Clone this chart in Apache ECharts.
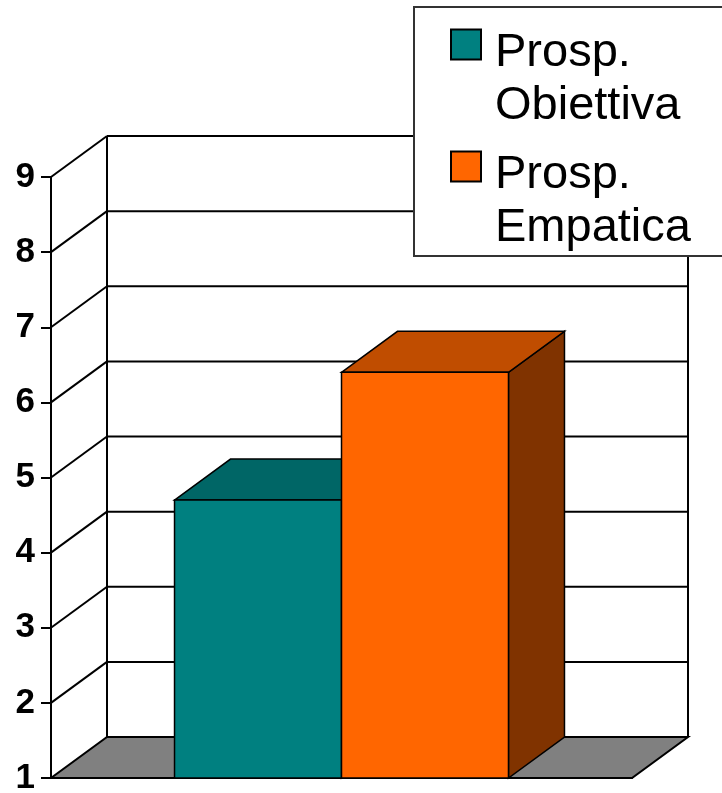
<!DOCTYPE html>
<html>
<head>
<meta charset="utf-8">
<script src="https://cdn.jsdelivr.net/npm/echarts@6/dist/echarts.min.js"></script>
<style>
  html, body { margin: 0; padding: 0; background: #fff; }
  #chart { width: 722px; height: 793px; }
</style>
</head>
<body>
<div id="chart"></div>
<script>
var categories = [''];
var seriesNames = ['Prosp. Obiettiva', 'Prosp. Empatica'];
var obiettivaValues = [4.7];
var empaticaValues = [6.4];
var yTicks = [1, 2, 3, 4, 5, 6, 7, 8, 9];

var FONT = '"Liberation Sans", Arial, sans-serif';
var DX = 56, DY = -41;     // depth offset of the 3D box
var BAR_SHARE = 0.2874;    // bar width as part of the category band

var myEchart = echarts.init(document.getElementById('chart'));

// back wall, left wall and floor
function renderWall(params, api) {
    var v = api.value(1);
    var c = api.coord([0, v]);
    var band = api.size([1, 0])[0];
    var x0 = c[0] - band / 2, x1 = c[0] + band / 2;
    var y = c[1];
    var line = { stroke: '#000', lineWidth: 2 };
    var children = [];
    if (params.dataIndex === 0) {
        var top = api.coord([0, yTicks[yTicks.length - 1]])[1];
        children.push({
            type: 'polygon',
            shape: { points: [[x0, y], [x1, y], [x1 + DX, y + DY], [x0 + DX, y + DY]] },
            style: { fill: '#808080', stroke: '#000', lineWidth: 2 }
        });
        children.push({ type: 'line', shape: { x1: x0 + DX, y1: y + DY, x2: x0 + DX, y2: top + DY }, style: line });
        children.push({ type: 'line', shape: { x1: x1 + DX, y1: y + DY, x2: x1 + DX, y2: top + DY }, style: line });
    } else {
        children.push({ type: 'line', shape: { x1: x0, y1: y, x2: x0 + DX, y2: y + DY }, style: line });
        children.push({ type: 'line', shape: { x1: x0 + DX, y1: y + DY, x2: x1 + DX, y2: y + DY }, style: line });
    }
    return { type: 'group', children: children };
}

function barRenderer(slot, front, topColor, side) {
    return function (params, api) {
        var cat = api.value(0);
        var t = api.coord([cat, api.value(1)]);
        var b = api.coord([cat, yTicks[0]]);
        var w = api.size([1, 0])[0] * BAR_SHARE;
        var l = t[0] - w + slot * w, r = l + w;
        var st = { stroke: '#000', lineWidth: 1.5 };
        return {
            type: 'group',
            children: [
                { type: 'polygon', shape: { points: [[r, t[1]], [r + DX, t[1] + DY], [r + DX, b[1] + DY], [r, b[1]]] },
                  style: Object.assign({ fill: side }, st) },
                { type: 'polygon', shape: { points: [[l, t[1]], [l + DX, t[1] + DY], [r + DX, t[1] + DY], [r, t[1]]] },
                  style: Object.assign({ fill: topColor }, st) },
                { type: 'rect', shape: { x: l, y: t[1], width: w, height: b[1] - t[1] },
                  style: Object.assign({ fill: front }, st) }
            ]
        };
    };
}

var option = {
    animation: false,
    backgroundColor: '#fff',
    grid: { left: 51, right: 90, top: 177, bottom: 15, outerBoundsMode: 'none' },
    legend: {
        // square sits at the top of a taller icon box so it lines up with the first text line
        data: seriesNames.map(function (n) {
            return { name: n, icon: 'path://M0,0H30V30H0ZM0,101' };
        }),
        orient: 'vertical',
        left: 414,
        top: 7,
        padding: [20, 40, 1, 36],
        itemWidth: 30,
        itemHeight: 101,
        itemGap: 16,
        selectedMode: false,
        backgroundColor: '#fff',
        borderColor: '#333',
        borderWidth: 2,
        borderRadius: 0,
        itemStyle: { borderColor: '#000', borderWidth: 2 },
        textStyle: { fontSize: 47, lineHeight: 53, color: '#000', fontFamily: FONT, padding: [0, 0, 0, 9] },
        formatter: function (n) { return n.replace(' ', '\n'); }
    },
    xAxis: {
        type: 'category',
        data: categories,
        axisLine: { lineStyle: { color: '#000', width: 2 } },
        axisTick: { length: 12, lineStyle: { color: '#000', width: 2 } },
        axisLabel: { show: false },
        splitLine: { show: false }
    },
    yAxis: {
        type: 'value',
        min: yTicks[0],
        max: yTicks[yTicks.length - 1],
        interval: 1,
        axisLine: { show: true, lineStyle: { color: '#000', width: 2 } },
        axisTick: { show: true, length: 10, lineStyle: { color: '#000', width: 2 } },
        axisLabel: { margin: 16, fontSize: 35, fontWeight: 'bold', color: '#000', fontFamily: FONT, padding: [4, 0, 0, 0] },
        splitLine: { show: false }
    },
    series: [
        {
            type: 'custom',
            name: 'wall',
            z: 1,
            silent: true,
            renderItem: renderWall,
            data: yTicks.map(function (v) { return [0, v]; })
        },
        {
            type: 'custom',
            name: seriesNames[0],
            z: 2,
            itemStyle: { color: '#008080' },
            renderItem: barRenderer(0, '#008080', '#006666', '#004d4d'),
            data: obiettivaValues.map(function (v, i) { return [i, v]; })
        },
        {
            type: 'custom',
            name: seriesNames[1],
            z: 3,
            itemStyle: { color: '#ff6600' },
            renderItem: barRenderer(1, '#ff6600', '#c04d00', '#803300'),
            data: empaticaValues.map(function (v, i) { return [i, v]; })
        }
    ]
};

myEchart.setOption(option, true);
</script>
</body>
</html>
